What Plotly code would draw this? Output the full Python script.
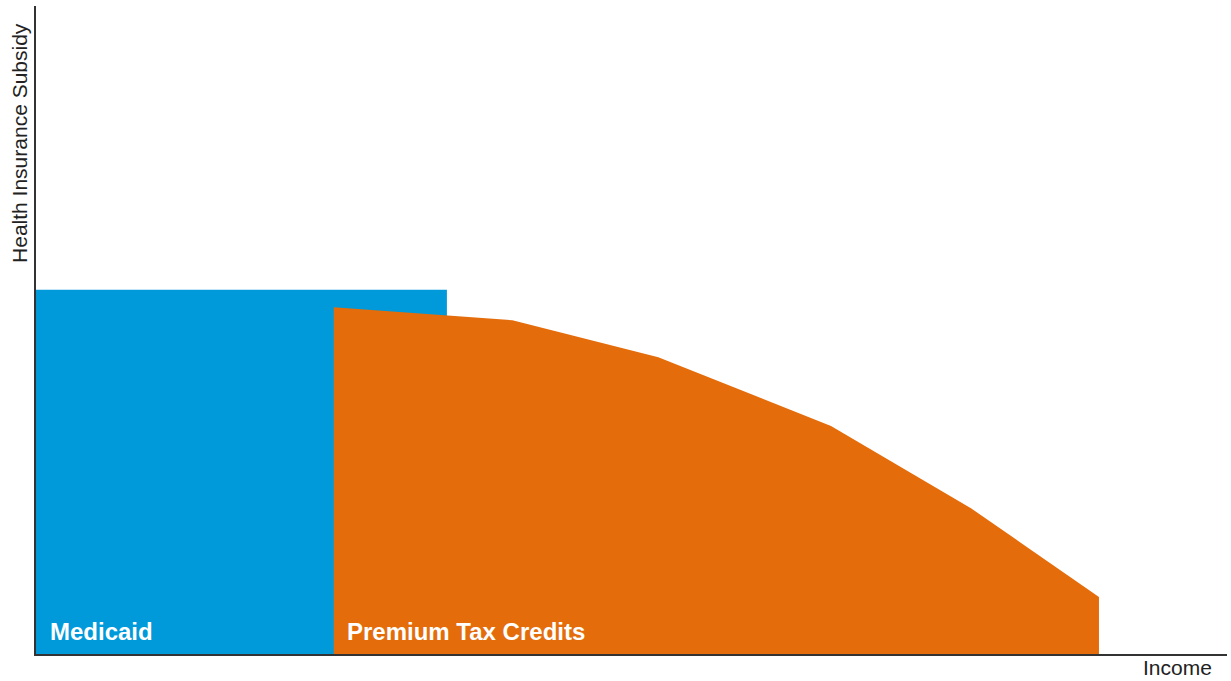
import plotly.graph_objects as go

# Income (x) and subsidy level (y) in arbitrary chart units
medicaid_x = [0, 0, 138, 138]
medicaid_y = [0, 56.2, 56.2, 0]

ptc_x = [100, 100, 160, 209, 267, 314, 357, 357]
ptc_y = [0, 53.5, 51.5, 45.8, 35.2, 22.5, 8.8, 0]

labels = ["Medicaid", "Premium Tax Credits"]
label_x = [4.0, 103.7]

BLUE = "#0099DA"
ORANGE = "#E46C0A"
FONT = "Liberation Sans, Arial, sans-serif"

fig = go.Figure()
fig.add_trace(go.Scatter(x=medicaid_x, y=medicaid_y, fill="toself", fillcolor=BLUE,
                         mode="lines", line=dict(width=0), hoverinfo="skip"))
fig.add_trace(go.Scatter(x=ptc_x, y=ptc_y, fill="toself", fillcolor=ORANGE,
                         mode="lines", line=dict(width=0), hoverinfo="skip"))

for name, lx in zip(labels, label_x):
    fig.add_annotation(x=lx, y=3.5, xref="x", yref="y", text=f"<b>{name}</b>",
                       showarrow=False, xanchor="left", yanchor="middle",
                       font=dict(family=FONT, size=24, color="white"))

fig.add_annotation(x=-0.0134, y=0.977, xref="paper", yref="paper",
                   text="Health Insurance Subsidy", textangle=-90, showarrow=False,
                   xanchor="center", yanchor="top",
                   font=dict(family=FONT, size=21, color="#222"))
fig.add_annotation(x=0.989, y=-0.0216, xref="paper", yref="paper",
                   text="Income", showarrow=False, xanchor="right", yanchor="middle",
                   font=dict(family=FONT, size=21, color="#222"))

axis_common = dict(showgrid=False, zeroline=False, showticklabels=False, ticks="",
                   showline=True, linecolor="#333", linewidth=1.5, fixedrange=True)
fig.update_xaxes(range=[0, 400], **axis_common)
fig.update_yaxes(range=[0, 100], **axis_common)

fig.update_layout(width=1231, height=681, margin=dict(l=36, r=4, t=6, b=27),
                  paper_bgcolor="white", plot_bgcolor="white", showlegend=False,
                  font=dict(family=FONT))

fig.write_html("out.html")
